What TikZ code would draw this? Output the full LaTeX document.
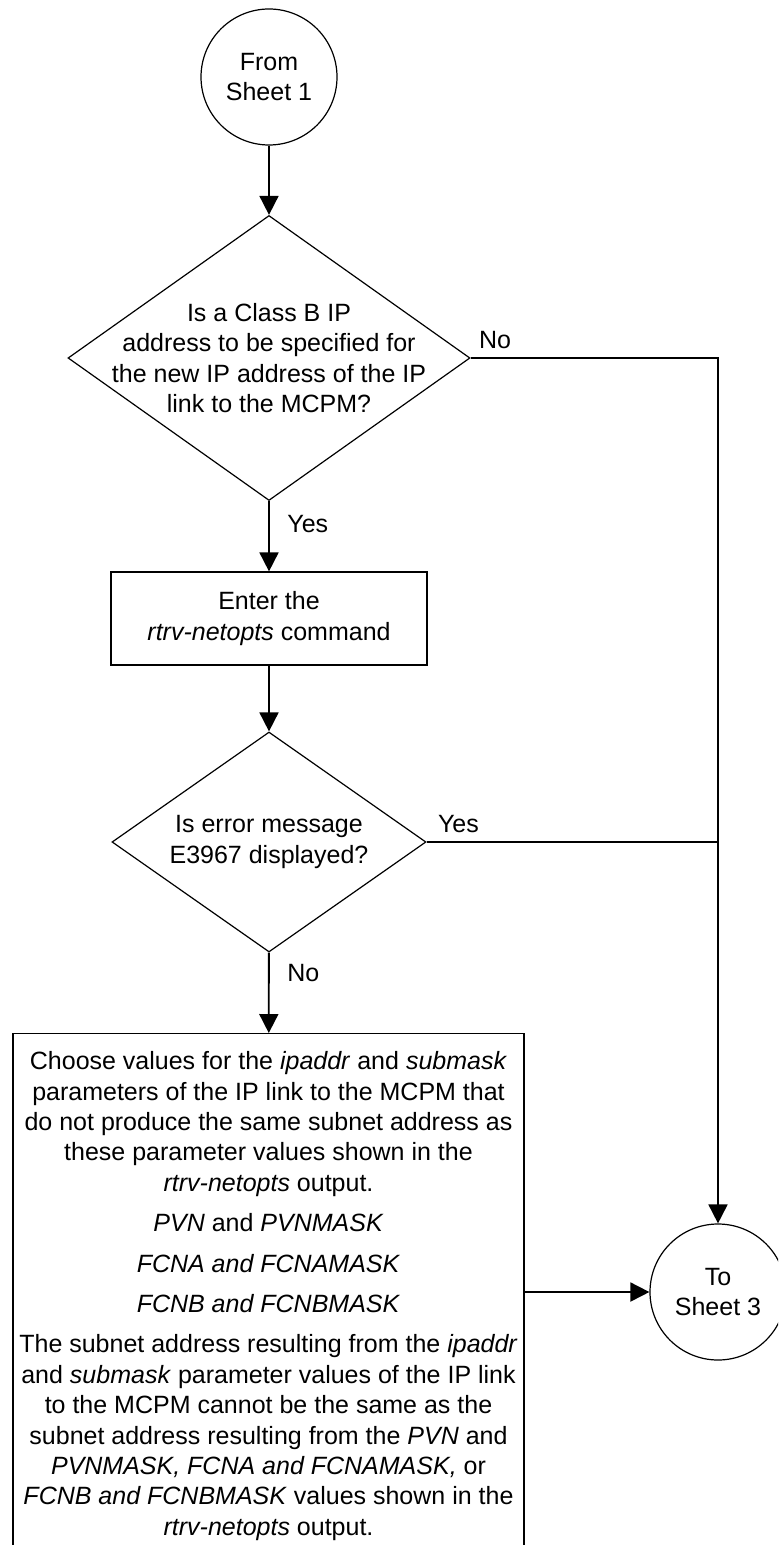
\documentclass[tikz,border=0pt]{standalone}
\usepackage{fontspec}
\setmainfont{Liberation Sans}
\usetikzlibrary{shapes.geometric,arrows.meta}

\tikzset{
  shape line/.style={draw, line width=0.6pt},
  terminal/.style={shape line, circle, minimum size=68pt, inner sep=0pt, align=center},
  process/.style={shape line, rectangle, align=center},
  decision/.style={shape line, diamond, inner sep=0pt},
  flow/.style={line width=0.9pt, -{Triangle[length=9.5pt,width=9.5pt]}},
  joint/.style={line width=0.9pt},
  lbl/.style={inner sep=0pt},
}

\begin{document}
\begin{tikzpicture}[x=0.5pt, y=-0.5pt, font=\fontsize{12.5}{15.2}\selectfont]
\useasboundingbox (0,0) rectangle (778,1545);
\clip (0,0) rectangle (778,1545);

\node[terminal] (from) at (269,77) {From\\Sheet 1};

\node[decision, minimum width=201pt, minimum height=142.5pt] (q1) at (269,358) {};
\node[align=center] (q1txt) at (q1) {Is a Class B IP\\address to be specified for\\the new IP address of the IP\\link to the MCPM?};

\node[process, minimum width=158pt, minimum height=46.5pt] (enter) at (269,618.5) {Enter the\\\textit{rtrv-netopts} command};

\node[decision, minimum width=157pt, minimum height=110pt] (q2) at (269,842) {};
\node[align=center] (q2txt) at (q2) {Is error message\\E3967 displayed?};

\node[process, anchor=north, minimum width=255.5pt, inner xsep=3pt, inner ysep=9pt] (choose) at (268.5,1033) {%
Choose values for the \textit{ipaddr} and \textit{submask}\\
parameters of the IP link to the MCPM that\\
do not produce the same subnet address as\\
these parameter values shown in the\\
\textit{rtrv-netopts} output.\\[5pt]
\textit{PVN} and \textit{PVNMASK}\\[5pt]
\textit{FCNA and FCNAMASK}\\[5pt]
\textit{FCNB and FCNBMASK}\\[5pt]
The subnet address resulting from the \textit{ipaddr}\\
and \textit{submask} parameter values of the IP link\\
to the MCPM cannot be the same as the\\
subnet address resulting from the \textit{PVN} and\\
\textit{PVNMASK, FCNA and FCNAMASK,} or\\
\textit{FCNB and FCNBMASK} values shown in the\\
\textit{rtrv-netopts} output.};

\node[terminal] (to) at (718,1292) {To\\Sheet 3};

\coordinate (j2) at (q2.east -| to);

\draw[flow] (from) -- (q1);
\draw[flow] (q1) -- (enter);
\draw[flow] (enter) -- (q2);
\draw[flow] (q2) -- (choose);
\draw[flow] (q1.east) -| (to);
\draw[joint] (q2.east) -- (j2);
\draw[flow] (choose.east |- to) -- (to);

% branch labels
\node[lbl, anchor=base west] (q1no) at ([xshift=4pt,yshift=4.5pt]q1.east) {No};
\node[lbl, anchor=base west] (q1yes) at ([xshift=9pt,yshift=-15.5pt]q1.south) {Yes};
\node[lbl, anchor=base west] (q2yes) at ([xshift=5.5pt,yshift=5pt]q2.east) {Yes};
\node[lbl, anchor=base west] (q2no) at ([xshift=9pt,yshift=-14.5pt]q2.south) {No};
\end{tikzpicture}
\end{document}
